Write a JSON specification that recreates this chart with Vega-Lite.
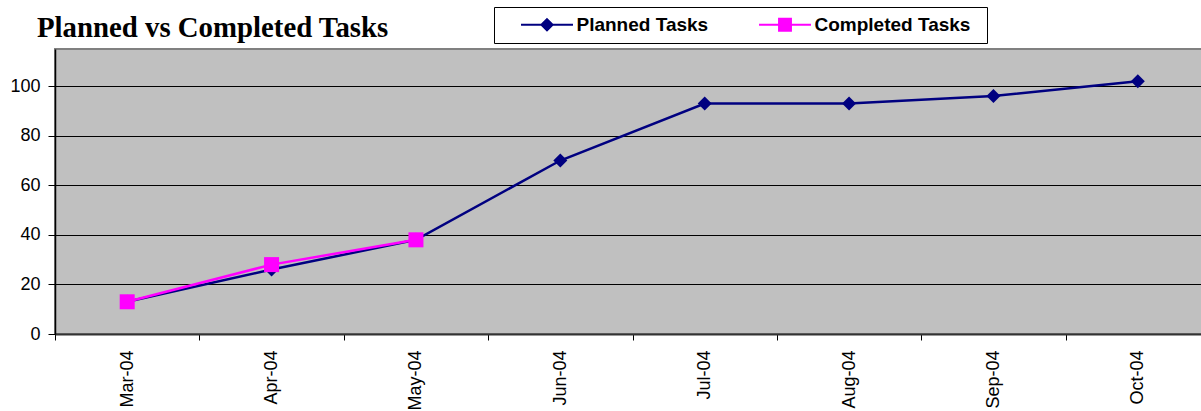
{
  "$schema": "https://vega.github.io/schema/vega-lite/v6.json",
  "autosize": {"type": "none"},
  "padding": {"left": 55, "top": 49, "right": 0, "bottom": 77},
  "width": 1155,
  "height": 285,
  "background": "white",
  "title": {
    "text": "Planned vs Completed Tasks",
    "anchor": "start",
    "frame": "group",
    "font": "Liberation Serif",
    "fontSize": 28.8,
    "fontWeight": "bold",
    "color": "black",
    "baseline": "alphabetic",
    "offset": 0,
    "dx": -18,
    "dy": 59
  },
  "data": {
    "values": [
      {"month": "Mar-04", "series": "Planned Tasks", "tasks": 13},
      {"month": "Apr-04", "series": "Planned Tasks", "tasks": 26},
      {"month": "May-04", "series": "Planned Tasks", "tasks": 38},
      {"month": "Jun-04", "series": "Planned Tasks", "tasks": 70},
      {"month": "Jul-04", "series": "Planned Tasks", "tasks": 93},
      {"month": "Aug-04", "series": "Planned Tasks", "tasks": 93},
      {"month": "Sep-04", "series": "Planned Tasks", "tasks": 96},
      {"month": "Oct-04", "series": "Planned Tasks", "tasks": 102},
      {"month": "Mar-04", "series": "Completed Tasks", "tasks": 13},
      {"month": "Apr-04", "series": "Completed Tasks", "tasks": 28},
      {"month": "May-04", "series": "Completed Tasks", "tasks": 38}
    ]
  },
  "encoding": {
    "x": {
      "field": "month",
      "type": "ordinal",
      "sort": ["Mar-04", "Apr-04", "May-04", "Jun-04", "Jul-04", "Aug-04", "Sep-04", "Oct-04"],
      "scale": {"type": "band", "paddingInner": 0, "paddingOuter": 0},
      "axis": {
        "title": null,
        "labelAngle": -90,
        "labelFont": "Liberation Sans",
        "labelFontSize": 18,
        "labelColor": "black",
        "labelPadding": 10,
        "tickBand": "extent",
        "tickSize": 6,
        "tickColor": "black",
        "tickWidth": 1,
        "domainColor": "#333333",
        "domainWidth": 2,
        "grid": false
      }
    },
    "y": {
      "field": "tasks",
      "type": "quantitative",
      "scale": {"domain": [0, 115], "nice": false, "zero": true},
      "axis": {
        "title": null,
        "values": [0, 20, 40, 60, 80, 100],
        "labelFont": "Liberation Sans",
        "labelFontSize": 18,
        "labelColor": "black",
        "labelPadding": 8,
        "tickSize": 7,
        "tickColor": "black",
        "domainColor": "black",
        "domainWidth": 1.5,
        "grid": true,
        "gridColor": "black",
        "gridWidth": 1,
        "gridOpacity": 1
      }
    },
    "color": {
      "field": "series",
      "type": "nominal",
      "scale": {"domain": ["Planned Tasks", "Completed Tasks"], "range": ["#000080", "#FF00FF"]}
    }
  },
  "layer": [
    {
      "transform": [{"filter": "datum.series === 'Planned Tasks'"}],
      "mark": {"type": "line", "strokeWidth": 2.5},
      "encoding": {
        "color": {
          "field": "series",
          "type": "nominal",
          "scale": {"domain": ["Planned Tasks", "Completed Tasks"], "range": ["#000080", "#FF00FF"]},
          "legend": {
            "orient": "none",
            "legendX": 439,
            "legendY": -42,
            "direction": "horizontal",
            "title": "\u00a0",
            "titleOrient": "right",
            "titleFontSize": 10,
            "titlePadding": 9,
            "symbolSize": 196,
            "symbolStrokeWidth": 2,
            "symbolOffset": 35.5,
            "labelFont": "Liberation Sans",
            "labelFontSize": 19,
            "labelFontWeight": "bold",
            "labelColor": "black",
            "labelOffset": 20,
            "labelLimit": 400,
            "columnPadding": 31,
            "padding": 8,
            "fillColor": "white",
            "strokeColor": "black",
            "encode": {
              "symbols": {
                "update": {
                  "shape": {"signal": "datum.value === 'Planned Tasks' ? 'M-3.71,0L3.71,0M0,-0.8L0.8,0L0,0.8L-0.8,0Z' : 'M-3.71,0L3.71,0M-0.85,-0.85L0.85,-0.85L0.85,0.85L-0.85,0.85Z'"},
                  "fill": {"signal": "datum.value === 'Planned Tasks' ? '#000080' : '#FF00FF'"},
                  "stroke": {"signal": "datum.value === 'Planned Tasks' ? '#000080' : '#FF00FF'"},
                  "strokeWidth": {"value": 2},
                  "opacity": {"value": 1}
                }
              }
            }
          }
        }
      }
    },
    {
      "transform": [{"filter": "datum.series === 'Planned Tasks'"}],
      "mark": {"type": "point", "shape": "diamond", "filled": true, "size": 196, "opacity": 1}
    },
    {
      "transform": [{"filter": "datum.series === 'Completed Tasks'"}],
      "mark": {"type": "line", "strokeWidth": 2.5}
    },
    {
      "transform": [{"filter": "datum.series === 'Completed Tasks'"}],
      "mark": {"type": "point", "shape": "square", "filled": true, "size": 225, "opacity": 1}
    }
  ],
  "config": {
    "view": {"fill": "#C0C0C0", "stroke": "#808080", "strokeWidth": 2}
  }
}
